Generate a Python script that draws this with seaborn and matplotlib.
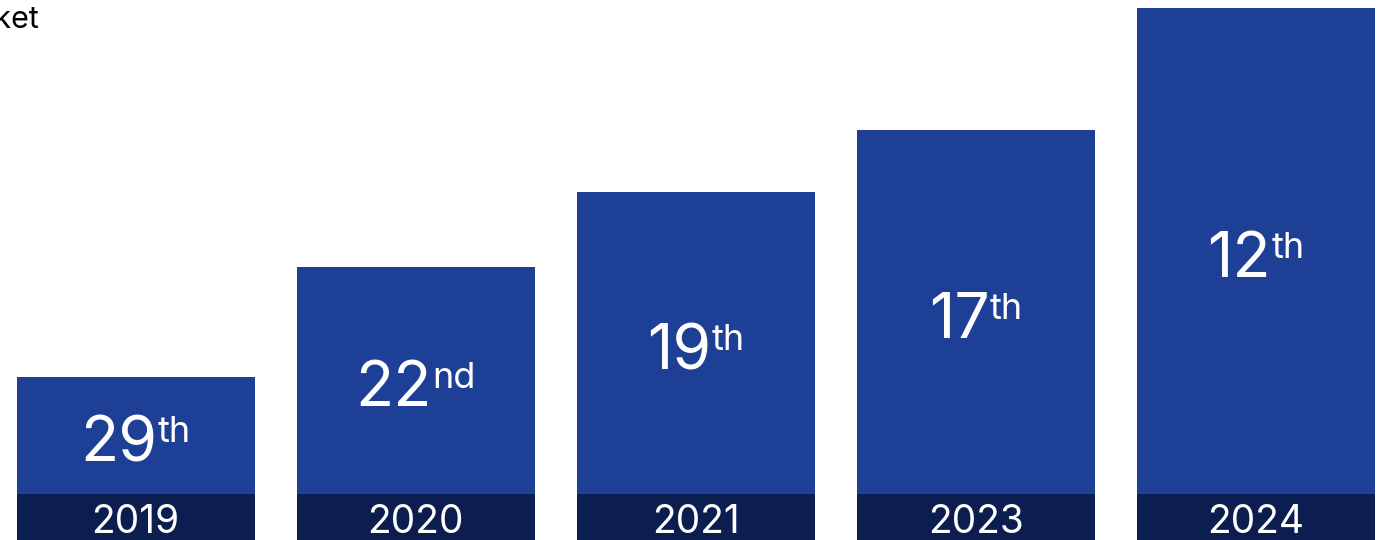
import matplotlib
matplotlib.use("Agg")
import matplotlib.pyplot as plt
import matplotlib.transforms as mtransforms
import seaborn as sns
import pandas as pd

# Data
years = ["2019", "2020", "2021", "2023", "2024"]
ranks = [29, 22, 19, 17, 12]
suffixes = ["th", "nd", "th", "th", "th"]
scores = [163, 273, 348, 410, 532]

BAR_COLOR = "#1E3F96"
BAND_COLOR = "#0C1E50"
BAND_H = 46

sns.set_theme(style="white")
plt.rcParams["font.family"] = ["Inter", "DejaVu Sans"]

fig = plt.figure(figsize=(13.82, 5.4), dpi=100)
ax = fig.add_axes([0, 0, 1, 1])

df = pd.DataFrame({"year": years, "score": scores, "band": [BAND_H] * len(years)})
sns.barplot(data=df, x="year", y="score", color=BAR_COLOR, width=0.85,
            saturation=1, linewidth=0, ax=ax)
sns.barplot(data=df, x="year", y="band", color=BAND_COLOR, width=0.85,
            saturation=1, linewidth=0, ax=ax)

ax.set_xlim(-0.484, 4.45)
ax.set_ylim(0, 540)
ax.axis("off")

# Year labels inside the dark band
for i, yr in enumerate(years):
    ax.text(i, 7, yr, ha="center", va="baseline", color="white", fontsize=28)

# Rank labels with superscript suffix, centred in the upper part of each bar
fig.canvas.draw()
renderer = fig.canvas.get_renderer()
for i, (rank, suf, s) in enumerate(zip(ranks, suffixes, scores)):
    base = (s + BAND_H) / 2 - 26
    t1 = ax.text(i, base, str(rank), ha="left", va="baseline",
                 color="white", fontsize=45)
    t2 = ax.text(i, base, suf, ha="left", va="baseline",
                 color="white", fontsize=26)
    w1 = t1.get_window_extent(renderer).width
    w2 = t2.get_window_extent(renderer).width
    total = w1 + w2
    t1.set_transform(mtransforms.offset_copy(ax.transData, fig=fig,
                                             x=-total / 2, y=0, units="dots"))
    t2.set_transform(mtransforms.offset_copy(ax.transData, fig=fig,
                                             x=-total / 2 + w1, y=19, units="dots"))

fig.text(39 / 1382, 1 - 28 / 540, "Rank in market", ha="right", va="baseline",
         color="black", fontsize=22)

fig.savefig("out.png", dpi=100)
